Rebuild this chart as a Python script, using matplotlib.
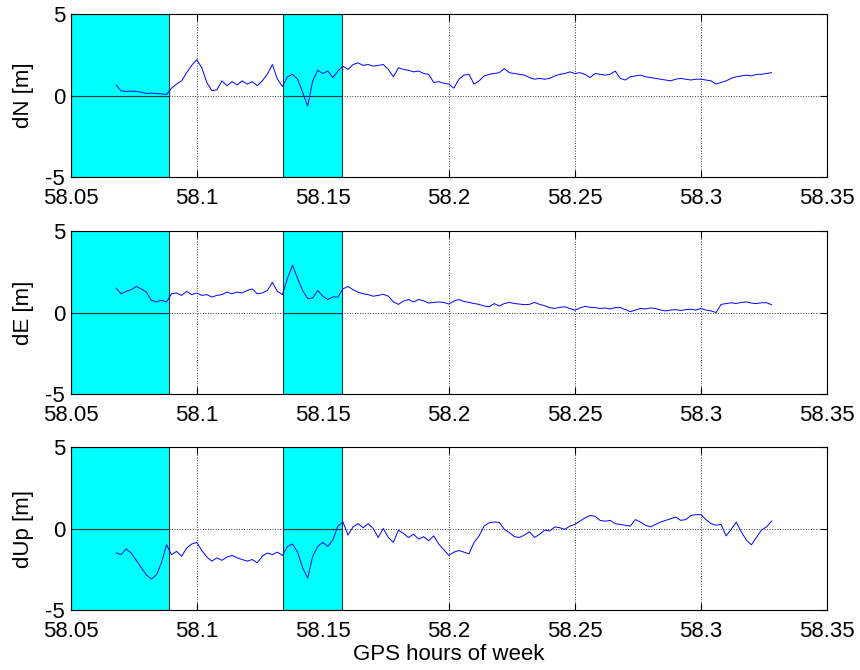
import numpy as np
import matplotlib
matplotlib.use("Agg")
import matplotlib.pyplot as plt
from matplotlib.patches import Rectangle

plt.rcParams['font.family'] = ['Liberation Sans', 'DejaVu Sans']
plt.rcParams['axes.unicode_minus'] = False

# sample times (GPS hours of week), one sample every 0.002 h
t_start = 58.068
t_step = 0.002

# position errors [m]
dN = [0.65, 0.28, 0.25, 0.27, 0.25, 0.2, 0.13, 0.15, 0.12, 0.1,
      0.06, 0.45, 0.7, 0.9, 1.4, 1.85, 2.2, 1.7, 0.8, 0.3,
      0.35, 0.9, 0.6, 0.85, 0.65, 0.9, 0.7, 0.85, 0.6, 0.9,
      1.3, 1.9, 1.0, 0.55, 1.15, 1.3, 1.0, 0.2, -0.65, 0.9,
      1.55, 1.35, 1.5, 1.1, 1.5, 1.8, 1.6, 1.9, 2.0, 1.85,
      1.9, 1.8, 1.85, 1.9, 1.6, 1.15, 1.7, 1.6, 1.55, 1.45,
      1.5, 1.35, 1.3, 0.8, 0.85, 0.75, 0.7, 0.45, 1.0, 1.25,
      1.3, 0.7, 0.9, 1.2, 1.3, 1.35, 1.4, 1.65, 1.4, 1.35,
      1.3, 1.25, 1.1, 1.0, 1.05, 1.0, 1.05, 1.2, 1.3, 1.35,
      1.45, 1.35, 1.4, 1.3, 1.1, 1.35, 1.3, 1.25, 1.3, 1.5,
      1.05, 0.95, 1.15, 1.2, 1.25, 1.15, 1.1, 1.05, 1.0, 0.95,
      0.9, 1.0, 1.05, 1.0, 0.95, 1.0, 1.0, 0.95, 0.9, 0.7,
      0.8, 0.9, 1.05, 1.15, 1.2, 1.25, 1.2, 1.3, 1.3, 1.35,
      1.4]

dE = [1.5, 1.15, 1.3, 1.4, 1.6, 1.45, 1.25, 0.75, 0.65, 0.75,
      0.65, 1.15, 1.2, 1.05, 1.3, 1.1, 1.2, 1.05, 1.1, 0.95,
      1.05, 1.1, 1.25, 1.15, 1.25, 1.2, 1.35, 1.45, 1.15, 1.2,
      1.35, 1.85, 1.3, 1.1, 2.1, 2.9, 2.1, 1.35, 0.85, 0.9,
      1.35, 1.0, 0.8, 0.95, 0.95, 1.45, 1.6, 1.4, 1.25, 1.15,
      1.1, 1.0, 1.05, 1.12, 1.0, 0.65, 0.5, 0.7, 0.8, 0.65,
      0.8, 0.72, 0.58, 0.62, 0.65, 0.62, 0.52, 0.7, 0.8, 0.68,
      0.62, 0.55, 0.5, 0.4, 0.35, 0.55, 0.4, 0.55, 0.62, 0.55,
      0.52, 0.48, 0.5, 0.62, 0.5, 0.42, 0.3, 0.25, 0.32, 0.35,
      0.25, 0.14, 0.28, 0.38, 0.32, 0.3, 0.25, 0.28, 0.22, 0.3,
      0.3, 0.18, 0.05, 0.15, 0.25, 0.22, 0.28, 0.25, 0.15, 0.1,
      0.15, 0.18, 0.12, 0.18, 0.2, 0.15, 0.25, 0.15, 0.1, 0.0,
      0.5, 0.55, 0.6, 0.55, 0.62, 0.65, 0.58, 0.55, 0.6, 0.6,
      0.48]

dUp = [-1.5, -1.6, -1.25, -1.5, -1.95, -2.4, -2.85, -3.1, -2.85, -2.1,
       -1.0, -1.6, -1.4, -1.7, -1.2, -0.95, -0.85, -1.35, -1.75, -2.0,
       -1.8, -1.95, -1.75, -1.65, -1.8, -1.9, -2.0, -1.9, -2.1, -1.7,
       -1.5, -1.6, -1.45, -1.65, -1.1, -0.95, -1.45, -2.4, -3.05, -1.7,
       -1.1, -0.85, -1.1, -0.7, 0.15, 0.4, -0.4, 0.1, 0.3, 0.05,
       0.3, 0.0, -0.55, 0.0, -0.55, -0.85, -0.1, -0.3, -0.55, -0.35,
       -0.65, -0.5, -0.75, -0.45, -0.95, -1.3, -1.65, -1.45, -1.35, -1.45,
       -1.55, -0.85, -0.45, 0.15, 0.35, 0.4, 0.38, -0.05, -0.25, -0.5,
       -0.55, -0.4, -0.2, -0.55, -0.35, -0.1, -0.15, 0.1, 0.05, -0.05,
       0.15, 0.25, 0.45, 0.65, 0.8, 0.75, 0.5, 0.45, 0.5, 0.3,
       0.25, 0.2, 0.15, 0.55, 0.4, 0.2, 0.1, 0.25, 0.4, 0.5,
       0.6, 0.7, 0.5, 0.55, 0.8, 0.85, 0.85, 0.55, 0.3, 0.2,
       0.25, -0.45, -0.05, 0.4, -0.2, -0.7, -1.0, -0.55, -0.1, 0.1,
       0.45]

t = t_start + t_step * np.arange(len(dN))

# shaded intervals (start, end) in GPS hours
shade_start = [58.05, 58.1341]
shade_end = [58.0889, 58.1578]

series = [dN, dE, dUp]
ylabels = ["dN [m]", "dE [m]", "dUp [m]"]
xticks = [58.05, 58.1, 58.15, 58.2, 58.25, 58.3, 58.35]
xticklabels = ["58.05", "58.1", "58.15", "58.2", "58.25", "58.3", "58.35"]

fig = plt.figure(figsize=(8.6, 6.7), dpi=100)
bottoms = [0.7358, 0.4119, 0.0895]

for vals, lab, b in zip(series, ylabels, bottoms):
    ax = fig.add_axes([0.0822, b, 0.8794, 0.2433])
    ax.set_xlim(58.05, 58.35)
    ax.set_ylim(-5, 5)

    ax.set_axisbelow(True)
    ax.grid(True, linestyle=":", color="0.25", linewidth=0.7)

    for s0, s1 in zip(shade_start, shade_end):
        for y0 in (-5, 0):
            ax.add_patch(Rectangle((s0, y0), s1 - s0, 5, facecolor="#00ffff",
                                   edgecolor="#1a3a3a", linewidth=0.8, zorder=1))

    ax.plot(t, vals, color="blue", linewidth=0.7, zorder=3)

    ax.set_xticks(xticks)
    ax.set_xticklabels(xticklabels)
    ax.set_yticks([-5, 0, 5])
    ax.tick_params(direction="in", top=True, right=True, length=5,
                   labelsize=16, width=0.8)
    ax.tick_params(axis="x", pad=8)
    ax.tick_params(axis="y", pad=4)
    ax.set_ylabel(lab, fontsize=16, labelpad=8)
    for sp in ax.spines.values():
        sp.set_linewidth(0.8)
        sp.set_zorder(4)

ax.set_xlabel("GPS hours of week", fontsize=16, labelpad=1)

fig.savefig("out.png", dpi=100)
